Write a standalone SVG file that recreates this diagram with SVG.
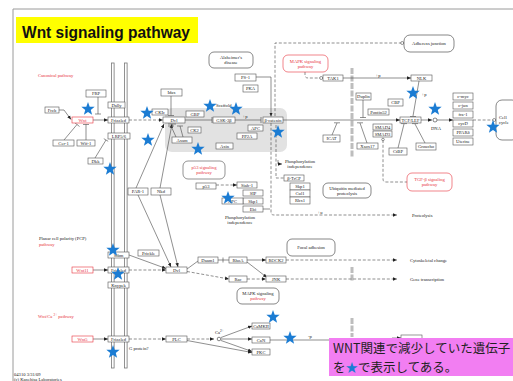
<svg xmlns="http://www.w3.org/2000/svg" xmlns:xlink="http://www.w3.org/1999/xlink" width="513" height="381" viewBox="0 0 513 381">
<style>
.b{fill:#fff;stroke:#555;stroke-width:0.6}
.r{fill:#fff;stroke:#e8323c;stroke-width:0.6}
.rr{fill:#fff;stroke:#555;stroke-width:0.7}
.rrr{fill:#fff;stroke:#666;stroke-width:0.7}
.t{font-family:"Liberation Serif",serif;font-size:4.6px;fill:#222;text-anchor:middle}
.tl{font-family:"Liberation Serif",serif;font-size:4.6px;fill:#222}
.red{fill:#e8323c}
.ln{stroke:#444;stroke-width:0.6;fill:none}
.dl{stroke:#444;stroke-width:0.6;fill:none;stroke-dasharray:3,1.8}
.ar{marker-end:url(#a)}
.oc{marker-end:url(#o)}
.nuc{stroke:#bdbdbd;stroke-width:3;stroke-dasharray:6,1.5;fill:none}
.mem{fill:#fff;stroke:#777;stroke-width:0.8}
.st{fill:#1b7cd3}
</style>
<defs>
<marker id="a" markerWidth="4" markerHeight="4" refX="4" refY="2" orient="auto" markerUnits="userSpaceOnUse"><path d="M0,0.3L4,2L0,3.7z" fill="#222"/></marker>
<marker id="o" markerWidth="4" markerHeight="4" refX="3.8" refY="2" orient="auto" markerUnits="userSpaceOnUse"><circle cx="2" cy="2" r="1.5" fill="#fff" stroke="#333" stroke-width="0.5"/></marker>
<path id="star" d="M0,-7L1.7,-2.35L6.66,-2.16L2.76,0.9L4.11,5.66L0,2.9L-4.11,5.66L-2.76,0.9L-6.66,-2.16L-1.7,-2.35Z"/>
</defs>
<rect width="513" height="381" fill="#fff"/>
<path d="M13,381V9H513" fill="none" stroke="#9a9a9a" stroke-width="1"/>
<g id="title"><rect x="16" y="17" width="182" height="26" fill="#ffff00"/><text x="22" y="37.5" font-family="Liberation Sans,Arial,sans-serif" font-weight="bold" font-size="17" textLength="168" lengthAdjust="spacingAndGlyphs" fill="#111">Wnt signaling pathway</text></g>

<rect id="complex-bg" x="165" y="108" width="122" height="44" rx="7" fill="#e2e2e2"/>
<g id="membrane"><rect class="mem" x="111.5" y="63" width="2.6" height="305"/><rect class="mem" x="124.5" y="63" width="2.6" height="305"/></g>
<g id="nucleus"><path class="nuc" d="M352,68V157M352,267V282M352,318V337"/></g>

<g id="labels">
<text class="tl red" x="38" y="76.5">Canonical pathway</text>
<text class="tl" x="39" y="239.5">Planar cell polarity (PCP)</text>
<text class="tl red" x="39" y="245.5">pathway</text>
<text class="tl red" x="38" y="318">Wnt/Ca <tspan font-size="3.5" dy="-2">2+</tspan><tspan dy="2"> pathway</tspan></text>
<text class="t" x="300" y="162.5">Phosphorylation</text><text class="t" x="300" y="167.5">independence</text>
<text class="t" x="240" y="218.5">Phosphorylation</text><text class="t" x="240" y="223.5">independence</text>
<text class="tl" x="412" y="217">Proteolysis</text>
<text class="tl" x="410" y="262">Cytoskeletal change</text>
<text class="tl" x="410" y="281">Gene transcription</text>
<text class="t" x="436" y="130">DNA</text>
<text class="t" x="378" y="77">+p</text><text class="t" x="245" y="118">+p</text><text class="t" x="424" y="96">+p</text><text class="t" x="310" y="337.5">-p</text><text class="t" x="320" y="213.5">+u</text>
<text class="tl" x="216" y="106.5">Scaffold</text>
<text class="tl" x="129" y="349.5">G protein?</text>
<text class="tl" x="215" y="334">Ca<tspan font-size="3.5" dy="-2">2+</tspan></text>
<text class="tl" x="14" y="375.5">04310 3/31/09</text>
<text class="tl" x="14" y="381">(c) Kanehisa Laboratories</text>
</g>

<g id="connectors">
<path class="ln ar" d="M59,110H64L71,119.5"/>
<path class="ln ar" d="M93,120H108"/>
<path class="ln" d="M98,97V114M95,114H101"/>
<path class="ln" d="M64,140L77,124.5M74.5,122.5L79.5,126.5"/>
<path class="ln" d="M86,140V124.5M83,124.5H89"/>
<path class="ln" d="M95,158L106,140M103.8,138.7L108.2,141.3"/>
<path class="dl ar" d="M129,120H163"/>
<path class="ln" d="M171,96V115.5M168,115.5H174"/>
<path class="ln" d="M185,120H212M212,117V123"/>
<path class="ln" d="M235,120H261M261,117V123"/>
<path class="ln ar" d="M283,120H400"/>
<path class="ln ar" d="M256,77H271V116.5"/>
<path class="dl oc" d="M275,116V43H404"/>
<path class="dl oc" d="M305,72V75Q305,78 308,78H323"/>
<path class="ln ar" d="M343,78H411"/>
<path class="ln" d="M419,81L413,116M410,116.5H416"/>
<path class="ln" d="M363,100V117.5M360,117.5H366"/>
<path class="ln" d="M332,135L337,123M334,122.8H340"/>
<path class="ln" d="M367,143L360,123M357,122.8H363"/>
<path class="dl" d="M383,140V179Q383,182 386,182H407"/>
<circle cx="383" cy="139.5" r="1.3" fill="#fff" stroke="#333" stroke-width="0.5"/>
<path class="ln" d="M398,148L404,124M401,123.6H407"/>
<path class="ln" d="M425,143L415,124M412,123.6H418"/>
<path class="ln ar" d="M421,120H432"/>
<circle cx="435" cy="120" r="2" fill="#fff" stroke="#333" stroke-width="0.6"/>
<path class="ln ar" d="M437,120H453"/>
<path class="dl oc" d="M473,120H496"/>
<path class="dl ar" d="M271,123V212Q271,215 274,215H397"/>
<path class="dl" d="M276,125V178H284"/>
<path class="ln ar" d="M278,160V164H282"/>
<path class="ln" d="M263,209H270"/>
<path class="dl ar" d="M216,185H237"/>
<path class="ln ar" d="M136,188L164,124"/>
<path class="ln ar" d="M160,188L172,124"/>
<path class="ln" d="M168,124H176"/>
<path class="ln" d="M176,137L171,126M168,126H174M183,137L180,126M177,126H183"/>
<path class="ln ar" d="M138,195L171,267"/>
<path class="ln ar" d="M160,195L178,267"/>
<path class="ln ar" d="M129,255L166,268.5"/>
<path class="ln ar" d="M93,270H108"/>
<path class="dl ar" d="M129,270H166"/>
<path class="ln" d="M187,269L198,261"/>
<path class="ln" d="M218,260H229M223,257.5V262.5"/>
<path class="ln ar" d="M247,260H266"/>
<path class="ln ar" d="M247,262L267,277.5"/>
<path class="dl ar" d="M187,271.5L229,279"/>
<path class="dl ar" d="M247,279H266"/>
<path class="dl ar" d="M286,260H397"/>
<path class="dl ar" d="M286,279H397"/>
<path class="ln ar" d="M93,339H108"/>
<path class="dl ar" d="M129,339H166"/>
<path class="dl ar" d="M187,339H214"/>
<circle cx="219" cy="339" r="1.8" fill="#fff" stroke="#333" stroke-width="0.6"/>
<path class="ln ar" d="M221,337.5L252,326"/>
<path class="ln ar" d="M221,339H252"/>
<path class="ln ar" d="M221,340.5L252,351.5"/>
<path class="ln ar" d="M187,340.5L252,352.5"/>
<path class="ln" d="M270,340H335"/>
<path class="ln ar" d="M392,338H401"/>
</g>

<g id="n-frzb"><rect class="b" x="45" y="107" width="14" height="6"/><text class="t" x="52" y="111.6">Frzb</text></g>
<g id="n-wnt"><rect class="r" x="72" y="117" width="21" height="6"/><text class="t red" x="82.5" y="121.6">Wnt</text></g>
<g id="n-frp"><rect class="b" x="86" y="90" width="20" height="7"/><text class="t" x="96" y="95">FRP</text></g>
<g id="n-dally"><rect class="b" x="108" y="102" width="17" height="6"/><text class="t" x="116.5" y="106.6">Dally</text></g>
<g id="n-frizzled1"><rect class="b" x="108" y="117" width="21" height="6"/><text class="t" x="118.5" y="121.6">Frizzled</text></g>
<g id="n-lrp"><rect class="b" x="108" y="133" width="22" height="6"/><text class="t" x="119" y="137.6">LRP5/6</text></g>
<g id="n-cer1"><rect class="b" x="53" y="140" width="21" height="6"/><text class="t" x="63.5" y="144.6">Cer-1</text></g>
<g id="n-wif1"><rect class="b" x="77" y="140" width="18" height="6"/><text class="t" x="86" y="144.6">Wif-1</text></g>
<g id="n-dkk"><rect class="b" x="88" y="158" width="15" height="6"/><text class="t" x="95.5" y="162.6">Dkk</text></g>
<g id="n-idax"><rect class="b" x="161" y="89" width="21" height="7"/><text class="t" x="171.5" y="94">Idax</text></g>
<g id="n-ckie"><rect class="b" x="152" y="109" width="16" height="6"/><text class="t" x="160" y="113.6">CKIε</text></g>
<g id="n-dvl1"><rect class="b" x="163" y="117" width="22" height="6"/><text class="t" x="174" y="121.6">Dvl</text></g>
<g id="n-gbp"><rect class="b" x="186" y="111" width="18" height="6"/><text class="t" x="195" y="115.6">GBP</text></g>
<g id="n-gsk"><rect class="b" x="213" y="117" width="22" height="6"/><text class="t" x="224" y="121.6">GSK-3β</text></g>
<g id="n-ck2"><rect class="b" x="188" y="127" width="13" height="6"/><text class="t" x="194.5" y="131.6">CK2</text></g>
<g id="n-axam"><rect class="b" x="172" y="137" width="20" height="6"/><text class="t" x="182" y="141.6">Axam</text></g>
<g id="n-axin"><rect class="b" x="216" y="143" width="17" height="6"/><text class="t" x="224.5" y="147.6">Axin</text></g>
<g id="n-bcat"><rect class="b" x="263" y="117" width="20" height="6"/><text class="t" x="273" y="121.6">β-catenin</text></g>
<g id="n-apc"><rect class="b" x="248" y="125" width="15" height="6"/><text class="t" x="255.5" y="129.6">APC</text></g>
<g id="n-pp2a"><rect class="b" x="237" y="133" width="20" height="6"/><text class="t" x="247" y="137.6">PP2A</text></g>
<g id="n-ps1"><rect class="b" x="235" y="74" width="21" height="7"/><text class="t" x="245.5" y="79">PS-1</text></g>
<g id="n-pka"><rect class="b" x="243" y="85" width="15" height="7"/><text class="t" x="250.5" y="90">PKA</text></g>
<g id="n-alz"><rect class="rr" x="209" y="52" width="44" height="16" rx="5"/><text class="t" x="231" y="59">Alzheimer's</text><text class="t" x="231" y="64">disease</text></g>
<g id="n-mapk1"><rect class="r" x="283" y="55" width="45" height="17" rx="5"/><text class="t red" x="305.5" y="62.5">MAPK signaling</text><text class="t red" x="305.5" y="67.5">pathway</text></g>
<g id="n-tak1"><rect class="b" x="323" y="75" width="20" height="6"/><text class="t" x="333" y="79.6">TAK1</text></g>
<g id="n-nlk"><rect class="b" x="411" y="75" width="21" height="6"/><text class="t" x="421.5" y="79.6">NLK</text></g>
<g id="n-adh"><rect class="rr" x="404" y="35" width="50" height="17" rx="6"/><text class="t" x="429" y="45">Adherens junction</text></g>
<g id="n-duplin"><rect class="b" x="356" y="93" width="15" height="7"/><text class="t" x="363.5" y="98">Duplin</text></g>
<g id="n-cbp1"><rect class="b" x="388" y="99" width="15" height="7"/><text class="t" x="395.5" y="104">CBP</text></g>
<g id="n-pontin"><rect class="b" x="368" y="109" width="21" height="6"/><text class="t" x="378.5" y="113.6">Pontin52</text></g>
<g id="n-tcf"><rect class="b" x="400" y="117" width="21" height="6"/><text class="t" x="410.5" y="121.6">TCF/LEF</text></g>
<g id="n-icat"><rect class="b" x="323" y="135" width="17" height="7"/><text class="t" x="331.5" y="140">ICAT</text></g>
<g id="n-xsox"><rect class="b" x="357" y="143" width="21" height="6"/><text class="t" x="367.5" y="147.6">Xsox17</text></g>
<g id="n-smad4"><rect class="b" x="373" y="124" width="19" height="6"/><text class="t" x="382.5" y="128.6">SMAD4</text></g>
<g id="n-smad3"><rect class="b" x="373" y="131" width="19" height="6"/><text class="t" x="382.5" y="135.6">SMAD3</text></g>
<g id="n-ctbp"><rect class="b" x="389" y="148" width="18" height="7"/><text class="t" x="398" y="153">CtBP</text></g>
<g id="n-groucho"><rect class="b" x="416" y="143" width="20" height="7"/><text class="t" x="426" y="148">Groucho</text></g>
<g id="n-tgf"><rect class="r" x="407" y="173" width="45" height="18" rx="5"/><text class="t red" x="429.5" y="181">TGF-β signaling</text><text class="t red" x="429.5" y="186">pathway</text></g>
<g id="n-cmyc"><rect class="b" x="453" y="93" width="20" height="7"/><text class="t" x="463" y="98">c-myc</text></g>
<g id="n-cjun"><rect class="b" x="453" y="102" width="20" height="7"/><text class="t" x="463" y="107">c-jun</text></g>
<g id="n-fra1"><rect class="b" x="453" y="111" width="20" height="7"/><text class="t" x="463" y="116">fra-1</text></g>
<g id="n-cycd"><rect class="b" x="453" y="120" width="20" height="7"/><text class="t" x="463" y="125">cycD</text></g>
<g id="n-ppard"><rect class="b" x="453" y="129" width="20" height="7"/><text class="t" x="463" y="134">PPARδ</text></g>
<g id="n-uterine"><rect class="b" x="453" y="138" width="20" height="7"/><text class="t" x="463" y="143">Uterine</text></g>
<g id="n-cellcycle"><rect class="rr" x="496" y="100" width="22" height="40" rx="6"/><text class="tl" x="499" y="119">Cell</text><text class="tl" x="499" y="124">cycle</text></g>
<g id="n-p53path"><rect class="rrr" x="183" y="161" width="42" height="18" rx="5"/><text class="t red" x="204" y="169">p53 signaling</text><text class="t red" x="204" y="174">pathway</text></g>
<g id="n-p53"><rect class="b" x="196" y="183" width="20" height="6"/><text class="t" x="206" y="187.6">p53</text></g>
<g id="n-siah"><rect class="b" x="237" y="182" width="20" height="6"/><text class="t" x="247" y="186.6">Siah-1</text></g>
<g id="n-sip"><rect class="b" x="243" y="190" width="20" height="6"/><text class="t" x="253" y="194.6">SIP</text></g>
<g id="n-skp1a"><rect class="b" x="243" y="198" width="20" height="6"/><text class="t" x="253" y="202.6">Skp1</text></g>
<g id="n-ebi"><rect class="b" x="243" y="206" width="20" height="6"/><text class="t" x="253" y="210.6">Ebi</text></g>
<g id="n-apc2"><rect class="b" x="222" y="198" width="21" height="6"/><text class="t" x="232.5" y="202.6">APC</text></g>
<g id="n-btrcp"><rect class="b" x="284" y="175" width="20" height="6"/><text class="t" x="294" y="179.6">β-TrCP</text></g>
<g id="n-skp1b"><rect class="b" x="290" y="183" width="20" height="7"/><text class="t" x="300" y="188">Skp1</text></g>
<g id="n-cul1"><rect class="b" x="290" y="190" width="20" height="7"/><text class="t" x="300" y="195">Cul1</text></g>
<g id="n-rbx1"><rect class="b" x="290" y="197" width="20" height="7"/><text class="t" x="300" y="202">Rbx1</text></g>
<g id="n-ubi"><rect class="rr" x="323" y="183" width="48" height="15" rx="5"/><text class="t" x="347" y="189.5">Ubiquitin mediated</text><text class="t" x="347" y="194.5">proteolysis</text></g>
<g id="n-par1"><rect class="b" x="128" y="188" width="20" height="7"/><text class="t" x="138" y="193">PAR-1</text></g>
<g id="n-nkd"><rect class="b" x="151" y="188" width="20" height="7"/><text class="t" x="161" y="193">Nkd</text></g>
<g id="n-focal"><rect class="rr" x="287" y="239" width="48" height="17" rx="5"/><text class="t" x="311" y="249">Focal adhesion</text></g>
<g id="n-stbm"><rect class="b" x="108" y="252" width="21" height="6"/><text class="t" x="118.5" y="256.6">Stbm</text></g>
<g id="n-prickle"><rect class="b" x="138" y="250" width="21" height="6"/><text class="t" x="148.5" y="254.6">Prickle</text></g>
<g id="n-wnt11"><rect class="r" x="72" y="267" width="21" height="6"/><text class="t red" x="82.5" y="271.6">Wnt11</text></g>
<g id="n-frizzled2"><rect class="b" x="108" y="267" width="21" height="6"/><text class="t" x="118.5" y="271.6">Frizzled</text></g>
<g id="n-knypek"><rect class="b" x="108" y="282" width="21" height="6"/><text class="t" x="118.5" y="286.6">Knypek</text></g>
<g id="n-dvl2"><rect class="b" x="166" y="267" width="21" height="6"/><text class="t" x="176.5" y="271.6">Dvl</text></g>
<g id="n-daam1"><rect class="b" x="198" y="257" width="20" height="6"/><text class="t" x="208" y="261.6">Daam1</text></g>
<g id="n-rhoa"><rect class="b" x="229" y="257" width="18" height="6"/><text class="t" x="238" y="261.6">RhoA</text></g>
<g id="n-rock2"><rect class="b" x="266" y="257" width="20" height="6"/><text class="t" x="276" y="261.6">ROCK2</text></g>
<g id="n-rac"><rect class="b" x="229" y="276" width="18" height="6"/><text class="t" x="238" y="280.6">Rac</text></g>
<g id="n-jnk"><rect class="b" x="266" y="276" width="20" height="6"/><text class="t" x="276" y="280.6">JNK</text></g>
<g id="n-mapk2"><rect class="rr" x="237" y="288" width="42" height="16" rx="5"/><text class="t" x="258" y="295">MAPK signaling</text><text class="t red" x="258" y="300">pathway</text></g>
<g id="n-wnt5"><rect class="r" x="72" y="336" width="21" height="6"/><text class="t red" x="82.5" y="340.6">Wnt5</text></g>
<g id="n-frizzled3"><rect class="b" x="108" y="336" width="21" height="6"/><text class="t" x="118.5" y="340.6">Frizzled</text></g>
<g id="n-plc"><rect class="b" x="166" y="336" width="21" height="6"/><text class="t" x="176.5" y="340.6">PLC</text></g>
<g id="n-camkii"><rect class="b" x="252" y="323" width="18" height="6"/><text class="t" x="261" y="327.6">CaMKII</text></g>
<g id="n-can"><rect class="b" x="252" y="337" width="18" height="6"/><text class="t" x="261" y="341.6">CaN</text></g>
<g id="n-pkc"><rect class="b" x="252" y="349" width="18" height="6"/><text class="t" x="261" y="353.6">PKC</text></g>
<g id="n-nfat"><rect class="b" x="401" y="335" width="21" height="6"/></g>

<g id="stars" class="st">
<use xlink:href="#star" x="88" y="109"/>
<use xlink:href="#star" x="147" y="113"/>
<use xlink:href="#star" x="210" y="106"/>
<use xlink:href="#star" x="236" y="109"/>
<use xlink:href="#star" x="148" y="140"/>
<use xlink:href="#star" x="198" y="149"/>
<use xlink:href="#star" x="110" y="169"/>
<use xlink:href="#star" x="228" y="198"/>
<use xlink:href="#star" x="278" y="132"/>
<use xlink:href="#star" x="413" y="93"/>
<use xlink:href="#star" x="435" y="109"/>
<use xlink:href="#star" x="493" y="127"/>
<use xlink:href="#star" x="113" y="250"/>
<use xlink:href="#star" x="118" y="274"/>
<use xlink:href="#star" x="113" y="352"/>
<use xlink:href="#star" x="273" y="317"/>
<use xlink:href="#star" x="290" y="338"/>
</g>

<g id="note"><rect x="329" y="338" width="186" height="38" fill="#f27ef2"/>
<text x="333" y="352.5" font-family="Noto Sans CJK JP,sans-serif" font-size="12.5" fill="#222">WNT関連で減少していた遺伝子</text>
<text x="333" y="371.5" font-family="Noto Sans CJK JP,sans-serif" font-size="12.5" fill="#222">を<tspan fill="#1b7cd3">★</tspan>で表示してある。</text></g>
</svg>
